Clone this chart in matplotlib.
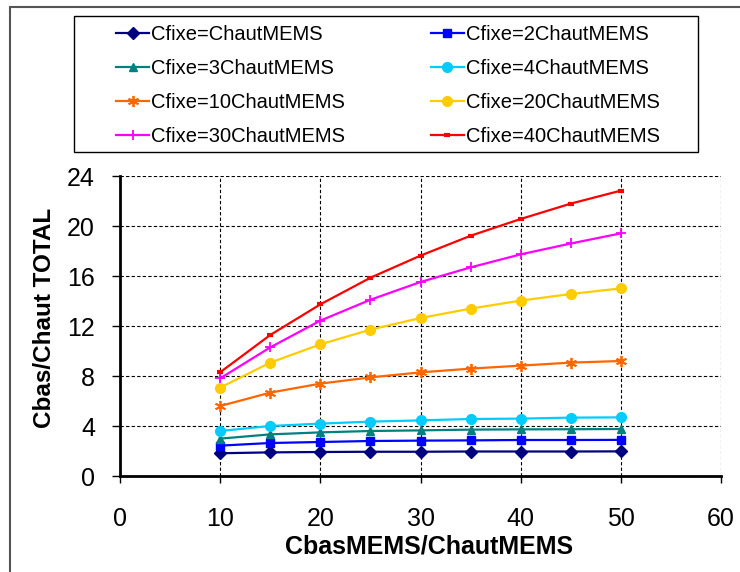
import matplotlib
matplotlib.use("Agg")
import matplotlib.pyplot as plt
from matplotlib.patches import Rectangle

plt.rcParams['font.family'] = ['Liberation Sans', 'DejaVu Sans']

x = [10, 15, 20, 25, 30, 35, 40, 45, 50]
labels = ["Cfixe=ChautMEMS", "Cfixe=2ChautMEMS", "Cfixe=3ChautMEMS", "Cfixe=4ChautMEMS",
          "Cfixe=10ChautMEMS", "Cfixe=20ChautMEMS", "Cfixe=30ChautMEMS", "Cfixe=40ChautMEMS"]
c1 = [1.82, 1.89, 1.92, 1.94, 1.94, 1.96, 1.96, 1.96, 1.97]
c2 = [2.43, 2.64, 2.72, 2.80, 2.83, 2.85, 2.88, 2.88, 2.89]
c3 = [2.99, 3.33, 3.49, 3.60, 3.65, 3.71, 3.73, 3.74, 3.76]
c4 = [3.60, 4.00, 4.19, 4.35, 4.45, 4.56, 4.59, 4.67, 4.69]
c10 = [5.60, 6.67, 7.39, 7.89, 8.29, 8.59, 8.83, 9.07, 9.20]
c20 = [7.07, 9.07, 10.53, 11.71, 12.64, 13.39, 14.03, 14.56, 15.01]
c30 = [7.81, 10.29, 12.43, 14.10, 15.52, 16.69, 17.73, 18.60, 19.41]
c40 = [8.30, 11.28, 13.73, 15.86, 17.63, 19.22, 20.56, 21.79, 22.83]
series = [c1, c2, c3, c4, c10, c20, c30, c40]

colors = ['#000080', '#0000FF', '#008080', '#00CCFF', '#FF6600', '#FFCC00', '#FF00FF', '#FF0000']
markers = ['D', 's', '^', 'o', (6, 2, 0), 'o', '+', '_']
msizes = [6.5, 5.5, 6, 7, 8, 7, 7, 4.5]
mews = [1, 1, 1, 1, 1.3, 1, 1.3, 3]

fig = plt.figure(figsize=(7.4, 5.72), dpi=100)
ax = fig.add_axes([120/740, 1-476/572, 601/740, 300/572])

handles = []
for s, c, m, ms, mew, lab in zip(series, colors, markers, msizes, mews, labels):
    h, = ax.plot(x, s, color=c, marker=m, markersize=ms, markeredgewidth=mew,
                 markeredgecolor=c, markerfacecolor=c, lw=1.6, label=lab, clip_on=False)
    handles.append(h)

ax.set_xlim(0, 60)
ax.set_ylim(0, 24)
ax.set_xticks(range(0, 61, 10))
ax.set_yticks(range(0, 25, 4))
ax.grid(True, color='black', linestyle=(0, (3, 2)), linewidth=0.8)
ax.set_axisbelow(True)
for sp in ['top', 'right']:
    ax.spines[sp].set_visible(False)
for sp in ['left', 'bottom']:
    ax.spines[sp].set_linewidth(2)
ax.tick_params(axis='both', labelsize=18, direction='out', width=1)
ax.tick_params(axis='x', length=5, pad=17)
ax.tick_params(axis='y', length=6, pad=12)
ax.set_xlabel("CbasMEMS/ChautMEMS", fontsize=18, fontweight='bold', labelpad=3)
ax.set_ylabel("Cbas/Chaut TOTAL", fontsize=17.5, fontweight='bold', labelpad=8)
ax.xaxis.label.set_x(0.514)
ax.yaxis.label.set_y(0.527)

order = [0, 2, 4, 6, 1, 3, 5, 7]
yc = 1 - 85.5/572
leg = fig.legend([handles[i] for i in order], [labels[i] for i in order], ncol=2,
                 loc='center', bbox_to_anchor=(116/740, yc - 0.1, 544/740, 0.2),
                 mode='expand', fontsize=14.5, frameon=False,
                 handlelength=1.65, handletextpad=0.1,
                 labelspacing=0.74, borderaxespad=0, borderpad=0)

fig.patches.append(Rectangle((74/740, 1-152/572), 624/740, 136/572, transform=fig.transFigure,
                             fill=False, edgecolor='black', linewidth=1.0))
fig.patches.append(Rectangle((10/740, -0.1), 1.2, 1.1 - 7/572, transform=fig.transFigure,
                             fill=False, edgecolor='#555555', linewidth=1.5))

fig.savefig("out.png", dpi=100)
